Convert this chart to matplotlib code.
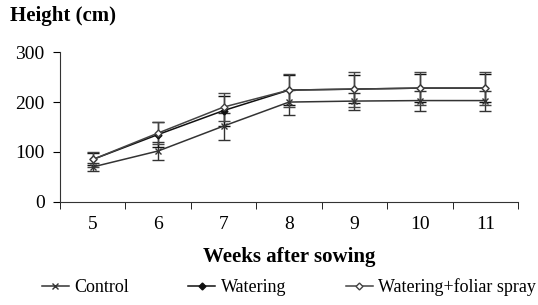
import matplotlib
matplotlib.use("Agg")
import matplotlib.pyplot as plt
from matplotlib.lines import Line2D
import numpy as np

weeks = ["5", "6", "7", "8", "9", "10", "11"]
control = [70, 102, 152, 200, 202, 203, 203]
watering = [85, 135, 183, 224, 226, 228, 228]
foliar = [85, 138, 190, 224, 226, 228, 228]
control_err = [8, 18, 27, 25, 17, 20, 20]
watering_err = [12, 25, 30, 30, 28, 28, 28]
foliar_err = [15, 22, 28, 33, 35, 33, 33]

plt.rcParams['font.family'] = ['Liberation Serif', 'DejaVu Serif']

fig = plt.figure(figsize=(5.38, 3.05), dpi=100)
ax = fig.add_axes([0.1115, 0.338, 0.8515, 0.491])
x = np.arange(len(weeks))

ekw = dict(capsize=4, elinewidth=1, capthick=1, lw=1.1)
ax.errorbar(x, control, yerr=control_err, color='#333333', marker='x', ms=5,
            mew=1, **ekw)
ax.errorbar(x, watering, yerr=watering_err, color='#111111', marker='D', ms=3.5,
            mfc='#111111', **ekw)
ax.errorbar(x, foliar, yerr=foliar_err, color='#444444', marker='D', ms=3.5,
            mfc='white', mew=1, **ekw)

ax.set_xlim(-0.5, len(weeks) - 0.5)
ax.set_ylim(0, 300)
ax.set_yticks([0, 100, 200, 300])
ax.set_xticks(x)
ax.set_xticklabels(weeks)
ax.set_xticks(np.arange(-0.5, len(weeks)), minor=True)
ax.tick_params(axis='x', which='major', length=0, labelsize=14, pad=10)
ax.tick_params(axis='x', which='minor', length=5, direction='out')
ax.tick_params(axis='y', labelsize=14, length=5, direction='out', pad=6)
for s in ['top', 'right']:
    ax.spines[s].set_visible(False)
for s in ['left', 'bottom']:
    ax.spines[s].set_color('#333333')

ax.set_xlabel('Weeks after sowing', fontsize=15, fontweight='bold', labelpad=10)
fig.text(0.018, 0.93, 'Height (cm)', fontsize=15, fontweight='bold', ha='left')

handles = [
    Line2D([], [], color='#333333', marker='x', ms=5, mew=1, lw=1.1),
    Line2D([], [], color='#111111', marker='D', ms=3.5, mfc='#111111', lw=1.1),
    Line2D([], [], color='#444444', marker='D', ms=3.5, mfc='white', mew=1, lw=1.1),
]
labels = ['Control', 'Watering', 'Watering+foliar spray']
fig.legend(handles, labels, loc='lower center', bbox_to_anchor=(0.537, -0.025),
           ncol=3, frameon=False, fontsize=13, handlelength=1.5,
           columnspacing=3.3, handletextpad=0.3)

fig.savefig('out.png', dpi=100, facecolor='white')
